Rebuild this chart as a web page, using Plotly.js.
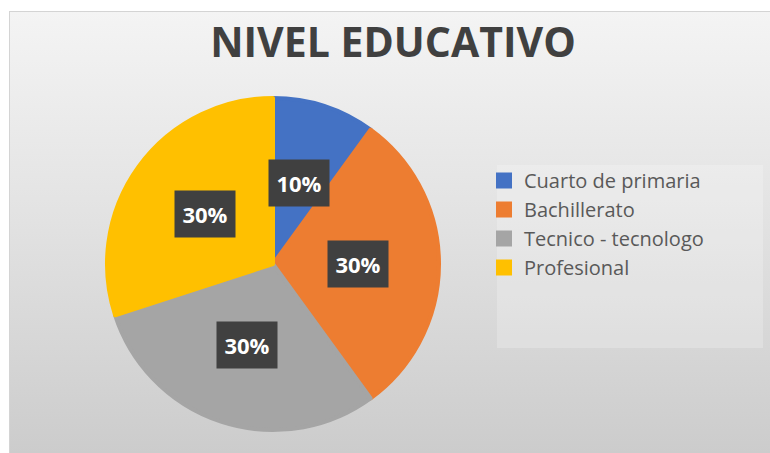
<!DOCTYPE html>
<html>
<head>
<meta charset="utf-8">
<script src="https://cdn.plot.ly/plotly-3.0.1.min.js"></script>
<style>
  body { margin: 0; background: #ffffff; }
  #wrap { position: relative; width: 770px; height: 453px; }
  #bg {
    position: absolute; left: 9px; top: 11px; width: 761px; height: 442px;
    background: linear-gradient(to bottom, #f4f4f4 0%, #e3e3e3 45%, #cccccc 100%);
    border-left: 1px solid #d4d4d4; border-top: 1px solid #d4d4d4;
    box-sizing: border-box;
  }
  #chart { position: absolute; left: 0; top: 0; width: 770px; height: 453px; }
</style>
</head>
<body>
<div id="wrap">
  <div id="bg"></div>
  <div id="chart"></div>
</div>
<script>
const categories = ['Cuarto de primaria', 'Bachillerato', 'Tecnico - tecnologo', 'Profesional'];
const values = [10, 30, 30, 30];
const sliceColors = ['#4472C4', '#ED7D31', '#A5A5A5', '#FFC000'];

const W = 770;
const H = 453;
// pie placement in pixels (slice outline of 4px adds 2px to the visible radius)
const cx = 273;
const cy = 264;
const R = 166;

const domainX = [(cx - R) / W, (cx + R) / W];
const domainY = [1 - (cy + R) / H, 1 - (cy - R) / H];

// percentage labels in dark boxes, placed at half radius on each slice's mid angle
const total = values.reduce((a, b) => a + b, 0);
const labelAnnotations = [];
let cum = 0;
values.forEach(function (v) {
  const mid = ((cum + v / 2) / total) * 2 * Math.PI;
  cum += v;
  const px = cx + 0.51 * R * Math.sin(mid);
  const py = cy - 0.51 * R * Math.cos(mid);
  labelAnnotations.push({
    xref: 'paper',
    yref: 'paper',
    x: px / W,
    y: 1 - py / H,
    xanchor: 'center',
    yanchor: 'middle',
    text: '<b>' + Math.round((v / total) * 100) + '%</b>',
    showarrow: false,
    bgcolor: '#404040',
    width: 58,
    height: 44,
    font: { family: 'Open Sans', size: 22, color: '#ffffff' },
  });
});

Plotly.newPlot(
  'chart',
  [
    {
      type: 'pie',
      labels: categories,
      values: values,
      sort: false,
      direction: 'clockwise',
      rotation: 0,
      textinfo: 'none',
      hoverinfo: 'skip',
      marker: { colors: sliceColors, line: { color: sliceColors, width: 4 } },
      domain: { x: domainX, y: domainY },
    },
  ],
  {
    width: W,
    height: H,
    margin: { l: 0, r: 0, t: 0, b: 0 },
    paper_bgcolor: 'rgba(0,0,0,0)',
    plot_bgcolor: 'rgba(0,0,0,0)',
    title: {
      text: '<b>NIVEL EDUCATIVO</b>',
      x: 393 / W,
      xanchor: 'center',
      y: 1 - 43 / H,
      yanchor: 'middle',
      font: { family: 'Open Sans', size: 41, color: '#404040' },
    },
    showlegend: true,
    legend: {
      x: 484 / W,
      xanchor: 'left',
      y: 1 - 161 / H,
      yanchor: 'top',
      bgcolor: 'rgba(0,0,0,0)',
      borderwidth: 0,
      font: { family: 'Open Sans', size: 20, color: '#595959' },
    },
    shapes: [
      {
        type: 'rect',
        xref: 'paper',
        yref: 'paper',
        x0: 497 / W,
        x1: 763 / W,
        y0: 1 - 348 / H,
        y1: 1 - 165 / H,
        fillcolor: 'rgba(255,255,255,0.22)',
        line: { width: 0 },
        layer: 'below',
      },
    ],
    annotations: labelAnnotations,
  },
  { displayModeBar: false, staticPlot: true }
);
</script>
</body>
</html>
